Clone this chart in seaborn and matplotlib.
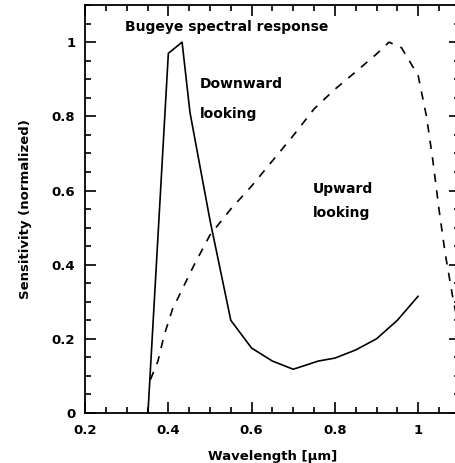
import numpy as np
import pandas as pd
import matplotlib
matplotlib.use("Agg")
import matplotlib.pyplot as plt
import seaborn as sns
from matplotlib.ticker import MultipleLocator, FormatStrFormatter

sns.set_style("ticks")
plt.rcParams['font.family'] = ['DejaVu Sans']
plt.rcParams['font.weight'] = 'bold'
plt.rcParams['text.color'] = 'black'
plt.rcParams['axes.labelcolor'] = 'black'
plt.rcParams['xtick.color'] = 'black'
plt.rcParams['ytick.color'] = 'black'
plt.rcParams['axes.edgecolor'] = 'black'

# Downward looking (solid)
down_wl = [0.351, 0.40, 0.433, 0.452, 0.50, 0.55, 0.60, 0.65, 0.70, 0.76, 0.80, 0.85, 0.90, 0.95, 1.00]
down_sens = [0.0, 0.97, 1.0, 0.81, 0.52, 0.25, 0.175, 0.14, 0.118, 0.14, 0.148, 0.17, 0.20, 0.25, 0.315]

# Upward looking (dashed)
up_wl = [0.357, 0.375, 0.39, 0.41, 0.46, 0.50, 0.55, 0.60, 0.65, 0.70, 0.75, 0.80, 0.85, 0.90, 0.93,
         0.96, 1.00, 1.02, 1.035, 1.05, 1.065, 1.085, 1.10]
up_sens = [0.09, 0.14, 0.21, 0.28, 0.395, 0.48, 0.55, 0.612, 0.68, 0.748, 0.82, 0.873, 0.92, 0.968, 1.0,
           0.985, 0.91, 0.80, 0.684, 0.55, 0.43, 0.30, 0.22]

down = pd.DataFrame({'wl': down_wl, 'sens': down_sens})
up = pd.DataFrame({'wl': up_wl, 'sens': up_sens})

fig = plt.figure(figsize=(4.55, 4.63), dpi=100)
ax = fig.add_axes([0.187, 0.108, 0.8235, 0.881])

sns.lineplot(data=down, x='wl', y='sens', ax=ax, color='black', linewidth=1.2, sort=False)
sns.lineplot(data=up, x='wl', y='sens', ax=ax, color='black', linewidth=1.2, sort=False,
             linestyle=(0, (5, 5)))

ax.set_xlim(0.2, 1.1)
ax.set_ylim(0, 1.1)
ax.xaxis.set_major_locator(MultipleLocator(0.2))
ax.xaxis.set_minor_locator(MultipleLocator(0.05))
ax.yaxis.set_major_locator(MultipleLocator(0.2))
ax.yaxis.set_minor_locator(MultipleLocator(0.05))
ax.xaxis.set_major_formatter(FormatStrFormatter('%g'))
ax.yaxis.set_major_formatter(FormatStrFormatter('%g'))
ax.tick_params(which='both', direction='in', top=True, right=True, labelsize=9.5, width=1.2)
ax.tick_params(which='major', length=8)
ax.tick_params(which='minor', length=4)
ax.tick_params(axis='x', which='major', pad=8)
ax.tick_params(axis='y', which='major', pad=7)
for s in ax.spines.values():
    s.set_linewidth(1.3)
    s.set_visible(True)

ax.set_xlabel('Wavelength [μm]', fontsize=9.5, fontweight='bold', labelpad=9)
ax.set_ylabel('Sensitivity (normalized)', fontsize=9.5, fontweight='bold', labelpad=14)

ax.text(0.296, 1.04, 'Bugeye spectral response', fontsize=10, fontweight='bold', va='center')
ax.text(0.476, 0.886, 'Downward', fontsize=10, fontweight='bold', va='center')
ax.text(0.476, 0.805, 'looking', fontsize=10, fontweight='bold', va='center')
ax.text(0.747, 0.603, 'Upward', fontsize=10, fontweight='bold', va='center')
ax.text(0.747, 0.538, 'looking', fontsize=10, fontweight='bold', va='center')

fig.savefig('out.png', dpi=100)
